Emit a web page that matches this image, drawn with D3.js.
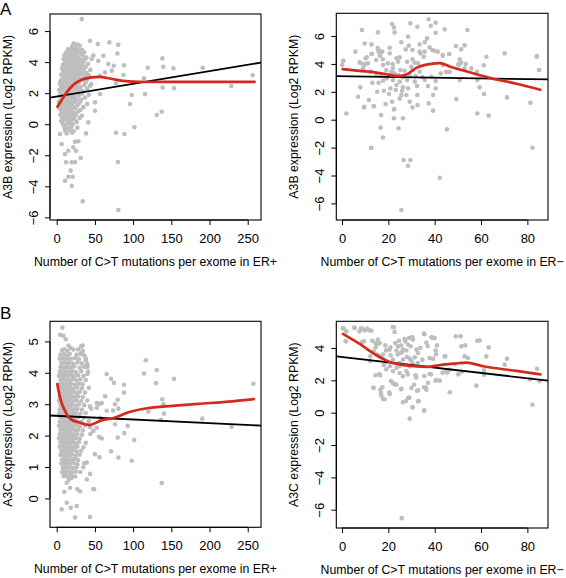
<!DOCTYPE html>
<html><head><meta charset="utf-8">
<script src="https://cdn.jsdelivr.net/npm/d3@7/dist/d3.min.js"></script>
<style>body{margin:0;background:#fff}svg{display:block;font-family:"Liberation Sans",Arial,Helvetica,sans-serif}</style>
</head><body><svg id="c" width="566" height="578"></svg>
<script>
// ---------- tick labels ----------
const xTicksERpos = [0, 50, 100, 150, 200, 250];
const xTicksERneg = [0, 20, 40, 60, 80];
const yTicksA3B = [-6, -4, -2, 0, 2, 4, 6];
const yTicksA3Cpos = [0, 1, 2, 3, 4, 5];
const yTicksA3Cneg = [-6, -4, -2, 0, 2, 4];
const xTitles = ["Number of C>T mutations per exome in ER+", "Number of C>T mutations per exome in ER\u2212"];
const yTitles = ["A3B expression (Log2 RPKM)", "A3C expression (Log2 RPKM)"];
const panelLetters = ["A", "B"];

// ---------- linear fits [intercept, slope] ----------
const fitA3Bpos = [1.78, 0.0082];
const fitA3Bneg = [3.12, -0.0026];
const fitA3Cpos = [2.63, -0.00116];
const fitA3Cneg = [3.44, -0.0164];

// ---------- lowess curves ----------
const smoothA3Bpos = [[0.9,1.12],[6.5,1.56],[13.1,2.05],[21.8,2.55],[32.7,2.87],[43.6,3.0],[56.7,3.05],[66,2.98],[76.3,2.88],[93.7,2.76],[120,2.72],[160,2.73],[200,2.73],[259,2.73]];
const smoothA3Bneg = [[0.3,3.63],[7.6,3.5],[14.8,3.38],[20.6,3.22],[24.2,3.13],[27.8,3.24],[32.1,3.72],[36.4,3.95],[42.2,4.06],[46.5,3.82],[55.1,3.4],[63.7,3.0],[75.3,2.58],[85.6,2.15]];
const smoothA3Cpos = [[0.8,3.64],[4.3,3.21],[10.9,2.79],[17.4,2.54],[30.5,2.41],[43.6,2.34],[56.7,2.47],[76,2.57],[95,2.75],[120,2.88],[142,2.93],[185,3.01],[230,3.09],[258,3.16]];
const smoothA3Cneg = [[0.4,4.87],[7.6,4.25],[14.8,3.56],[20.6,3.13],[27.8,2.92],[36.4,2.83],[43.6,2.97],[48,3.03],[53.7,3.1],[60.9,2.87],[75.3,2.58],[85.6,2.37]];

// ---------- points [mutations, expression] ----------
const erPosA3B = [
[22,5.2],[27,5.15],[30,5.05],[20,4.98],[25,5.02],[15,4.82],[19,4.75],[24,4.85],[28,4.78],[33,4.8],
[12,4.62],[17,4.58],[21,4.66],[26,4.6],[31,4.55],[36,4.63],[10,4.42],[14,4.38],[18,4.45],[23,4.4],[27,4.35],[34,4.43],[39,4.3],
[9,4.2],[13,4.24],[16,4.15],[20,4.22],[25,4.18],[29,4.25],[32,4.12],[37,4.2],
[11,4.02],[15,3.96],[19,4.05],[22,3.98],[27,4.03],[30,3.95],[35,4.0],[41,3.9],
[8,3.82],[12,3.78],[17,3.85],[21,3.8],[24,3.76],[28,3.83],[33,3.79],[38,3.72],
[7,3.6],[10,3.63],[14,3.58],[18,3.62],[22,3.55],[26,3.6],[31,3.64],[36,3.57],[44,3.5],
[9,3.42],[13,3.38],[16,3.45],[20,3.4],[24,3.36],[29,3.43],[34,3.38],[39,3.3],
[6,3.2],[11,3.24],[15,3.18],[19,3.22],[23,3.15],[27,3.2],[32,3.25],[37,3.12],[42,3.15],
[8,3.02],[12,2.98],[17,3.05],[21,3.0],[25,2.95],[30,3.03],[35,2.97],[40,2.9],
[5,2.8],[10,2.84],[14,2.78],[18,2.82],[22,2.76],[27,2.8],[33,2.85],[38,2.72],
[4,2.6],[7,2.64],[12,2.58],[16,2.62],[20,2.55],[24,2.6],[29,2.65],[36,2.52],[45,2.58],
[6,2.42],[9,2.38],[14,2.45],[18,2.4],[22,2.35],[26,2.43],[31,2.38],[40,2.3],
[3,2.2],[8,2.24],[11,2.18],[15,2.22],[20,2.15],[25,2.2],[30,2.25],[35,2.12],
[5,2.02],[10,1.98],[13,2.05],[17,2.0],[21,1.95],[27,2.03],[33,1.97],[42,1.9],
[4,1.8],[7,1.84],[12,1.78],[16,1.82],[19,1.76],[23,1.8],[29,1.85],[37,1.72],
[6,1.6],[9,1.64],[14,1.58],[18,1.62],[22,1.55],[26,1.6],[32,1.58],
[3,1.42],[8,1.38],[11,1.45],[15,1.4],[20,1.35],[24,1.43],[30,1.38],[40,1.3],
[5,1.2],[10,1.24],[13,1.18],[17,1.22],[21,1.15],[27,1.2],[35,1.1],
[4,1.02],[7,0.98],[12,1.05],[16,1.0],[19,0.95],[24,1.03],[31,0.92],
[6,0.82],[9,0.78],[14,0.85],[18,0.8],[22,0.75],[28,0.82],
[5,0.6],[8,0.64],[11,0.58],[15,0.62],[20,0.55],[25,0.6],[33,0.55],
[7,0.42],[10,0.38],[13,0.45],[17,0.4],[23,0.35],[30,0.4],
[6,0.2],[9,0.24],[15,0.18],[19,0.22],[26,0.15],
[8,0.02],[12,-0.03],[16,0.05],[21,0.0],
[10,-0.2],[14,-0.25],[19,-0.18],[27,-0.22],
[11,-0.42],[17,-0.38],[22,-0.45],[13,-0.6],[20,-0.55],
[32.7,6.77],[43.6,5.38],[53.7,5.16],[68.9,5.27],[80.6,5.12],[79.4,4.56],[61,4.41],[48,4.43],[45.8,4.2],[54.5,4.07],[67.5,3.88],[74.8,3.77],[88.1,3.8],
[56.7,3.12],[63.2,3.34],[72,3.45],[87.3,3.17],[43.6,2.48],[56.7,1.95],[50.1,1.41],[50.1,0.87],[41.4,0.12],
[138.3,4.24],[139.6,3.7],[119.1,3.64],[152.7,3.6],[191.1,3.64],[256.5,3.15],[114.3,2.95],[77.7,2.63],[138.7,2.37],[153.6,2.31],[228.6,2.46],
[98.2,1.88],[115.6,1.94],[96,1.3],[137.4,0.8],[130.9,0.59],[101.7,-0.2],[38.4,-0.59],[77.7,-0.55],[88.6,-0.63],[80.1,-2.44],[34,-4.97],[80.7,-5.53],
[6.5,-1.28],[10.9,-1.92],[15.2,-1.71],[21.7,-1.49],[25.3,-1.71],[31.4,-2.18],[12.2,-2.45],[19.6,-2.45],[24,-2.45],[18.3,-2.99],[15.2,-3.38],[20.9,-3.38],[10.9,-3.64],[19.6,-3.96],[4.3,-0.63],[24,-1.13],[28.4,-1.1]
];

const erNegA3B = [
[8.6,6.43],[21.6,6.86],[22.4,6.62],[29.5,6.91],[37.4,7.2],[38.3,6.74],[40.4,6.96],[40.4,6.24],[32.5,6.67],[44.3,6.48],[54.1,6.43],[22.7,6.26],[15.5,6.26],
[28.5,5.95],[5.8,4.88],[9.8,5.47],[12.7,5.4],[25.6,5.55],[28.8,5.31],[33.5,5.4],[35.7,5.55],[36.7,5.83],[37.8,5.19],[35.7,4.88],[33.5,4.88],[30.4,5.0],[27.5,5.04],
[20.6,5.16],[15.8,5.0],[16.3,4.76],[17.4,4.88],[20.6,4.76],[12.7,4.71],[10.2,4.4],[7.6,4.11],[0.4,4.21],[0.1,3.92],[11.2,4.04],[14.8,4.28],[17.6,4.33],[19.8,4.04],
[23.5,4.4],[24.2,4.16],[21.9,3.99],[24.9,4.47],[28.1,4.16],[30.4,4.33],[31.4,4.09],[32.8,4.04],[33.8,4.76],[35.3,4.52],[38.9,5.0],[39.9,4.95],[41.3,4.88],[43.5,4.64],
[46.3,4.71],[49.2,5.28],[51.4,5.04],[52.9,5.33],[50.8,4.33],[51.4,4.09],[50.4,3.92],[52.9,3.68],[62.3,4.52],[70.2,4.76],[84.2,4.57],[85,3.56],[61.2,3.9],[58.3,3.44],
[58.4,2.84],[59.4,2.32],[61.3,1.84],[71.2,1.6],[49.3,1.48],[81.3,1.22],[58.4,0.45],[63.3,0.29],[45.3,-0.69],[39.3,0.65],[37.4,1.17],[40.4,2.25],[40.4,2.77],[42.6,3.32],
[45,3.44],[38.6,3.08],[35.7,2.84],[32.4,2.41],[32.5,1.77],[32.6,1.05],[30.4,0.88],[29.2,1.29],[27.8,1.77],[25.9,2.08],[24.9,1.51],[24.4,-0.62],[22.4,0.1],[26.3,0.1],
[22.4,0.74],[21.6,1.29],[20.3,1.84],[18.1,2.08],[17.7,2.8],[15.8,2.65],[14.8,3.28],[15.2,2.0],[16.9,0.33],[16.7,-0.57],[17.7,-1.27],[12.7,-2.01],[11.6,1.41],[13.7,0.98],
[9.5,0.88],[7.9,2.32],[9.8,3.97],[1.9,0.45],[26.6,-2.89],[29.5,-2.89],[28.5,-3.3],[42.2,-4.16],[25.6,-6.48],[82.2,-2.01],[55.8,3.68],[50.8,2.84],[46.5,3.44],
[19.1,3.56],[21.3,3.44],[22.7,3.32],[24.2,3.2],[25.2,3.56],[26.3,3.04],[27,3.51],[28.1,2.84],[29.2,3.2],[30.6,3.56],[31.8,3.13],[33.5,3.44],[34.7,3.04],[22,2.84],
[23.5,2.49],[24.9,2.73],[26.3,2.32],[28.5,2.25],[20.9,2.25],[19.4,2.96],[16.9,3.2],[12.4,3.44],[9.1,3.68],[23.2,2.13],[25.6,1.77],[31.4,2.73],[37.1,2.41],[39.3,1.77],
[13.1,2.65],[18.8,1.12],[6.9,1.65],[17.7,3.92],[22,3.68],[29.9,3.8],[43.6,3.92],[85.1,3.56],[84,4.52],[53.4,4.0],[50.2,4.0],[43.5,4.59],[46.3,4.71],[45.3,3.4],
[15.4,5.14],[15.8,4.91],[16.4,4.59],[12.9,4.71],[10.7,4.48],[8.2,4.05],[9.6,3.95],[0.6,4.23],[12.5,-2.03],[22.6,0.77],[13.7,0.96],[9.6,0.93]
];

const erPosA3C = [
[7,4.72],[10,4.75],[14,4.7],[28,4.74],[34,4.69],
[5,4.58],[9,4.6],[13,4.56],[17,4.6],[26,4.57],[31,4.6],[36,4.55],
[4,4.45],[8,4.47],[11,4.43],[15,4.46],[19,4.44],[24,4.47],[29,4.43],[38,4.45],
[6,4.31],[9,4.33],[13,4.3],[16,4.32],[21,4.29],[27,4.33],[33,4.3],[40,4.28],
[5,4.18],[8,4.2],[11,4.16],[14,4.19],[18,4.17],[23,4.2],[30,4.16],[36,4.19],
[4,4.04],[7,4.06],[10,4.02],[13,4.05],[16,4.03],[20,4.06],[25,4.02],[32,4.05],[41,4.03],
[3,3.91],[6,3.93],[9,3.89],[12,3.92],[15,3.9],[19,3.93],[23,3.89],[28,3.92],[35,3.9],
[5,3.78],[8,3.8],[11,3.76],[14,3.79],[17,3.77],[21,3.8],[26,3.76],[31,3.79],[38,3.77],
[4,3.64],[7,3.66],[10,3.62],[13,3.65],[16,3.63],[19,3.66],[24,3.62],[29,3.65],[34,3.63],
[3,3.51],[6,3.53],[9,3.49],[12,3.52],[15,3.5],[18,3.53],[22,3.49],[27,3.52],[33,3.5],[42,3.52],
[5,3.38],[8,3.4],[11,3.36],[14,3.39],[17,3.37],[20,3.4],[25,3.36],[30,3.39],[37,3.37],
[4,3.24],[7,3.26],[10,3.22],[13,3.25],[16,3.23],[19,3.26],[23,3.22],[28,3.25],[34,3.23],
[3,3.11],[6,3.13],[9,3.09],[12,3.12],[15,3.1],[18,3.13],[21,3.09],[26,3.12],[32,3.1],[40,3.12],
[5,2.98],[8,3.0],[11,2.96],[14,2.99],[17,2.97],[20,3.0],[24,2.96],[29,2.99],[36,2.97],
[4,2.84],[7,2.86],[10,2.82],[13,2.85],[16,2.83],[19,2.86],[22,2.82],[27,2.85],[33,2.83],[45,2.86],
[3,2.71],[6,2.73],[9,2.69],[12,2.72],[15,2.7],[18,2.73],[21,2.69],[25,2.72],[31,2.7],[38,2.72],
[5,2.58],[8,2.6],[11,2.56],[14,2.59],[17,2.57],[20,2.6],[23,2.56],[28,2.59],[35,2.57],
[4,2.44],[7,2.46],[10,2.42],[13,2.45],[16,2.43],[19,2.46],[22,2.42],[26,2.45],[32,2.43],[42,2.46],
[3,2.31],[6,2.33],[9,2.29],[12,2.32],[15,2.3],[18,2.33],[21,2.29],[25,2.32],[30,2.3],[37,2.32],
[5,2.18],[8,2.2],[11,2.16],[14,2.19],[17,2.17],[20,2.2],[24,2.16],[28,2.19],[34,2.17],
[4,2.04],[7,2.06],[10,2.02],[13,2.05],[16,2.03],[19,2.06],[22,2.02],[27,2.05],[33,2.03],[44,2.05],
[3,1.91],[6,1.93],[9,1.89],[12,1.92],[15,1.9],[18,1.93],[21,1.89],[25,1.92],[30,1.9],
[5,1.78],[8,1.8],[11,1.76],[14,1.79],[17,1.77],[20,1.8],[24,1.76],[29,1.79],[38,1.77],
[4,1.64],[7,1.66],[10,1.62],[13,1.65],[16,1.63],[19,1.66],[23,1.62],[27,1.65],[35,1.63],
[6,1.51],[9,1.53],[12,1.49],[15,1.52],[18,1.5],[21,1.53],[26,1.49],[32,1.52],
[5,1.38],[8,1.4],[11,1.36],[14,1.39],[17,1.37],[20,1.4],[25,1.36],[30,1.39],
[7,1.24],[10,1.26],[13,1.22],[16,1.25],[19,1.23],[23,1.26],[28,1.22],
[6,1.11],[9,1.13],[12,1.09],[15,1.12],[18,1.1],[22,1.13],[27,1.09],[36,1.12],
[8,0.98],[11,1.0],[14,0.96],[17,0.99],[21,0.97],[26,1.0],
[7,0.84],[10,0.86],[13,0.82],[16,0.85],[20,0.83],[25,0.86],[31,0.84],
[9,0.71],[12,0.73],[15,0.69],[19,0.72],[24,0.7],
[7.4,5.44],[4.4,5.21],[8.7,5.18],[11.8,5.07],[15.3,4.87],[18.3,4.79],[21.8,4.74],[31.9,4.84],[34,4.87],[32.7,4.6],[38.4,4.39],[40.2,4.18],[40.2,3.96],
[65.4,3.96],[71.1,3.81],[75,3.68],[88.1,3.62],[88.1,3.37],[79.8,3.14],[76.3,3.0],[80.7,2.86],[63.3,3.25],[52.4,3.04],[56,3.01],[59,3.04],[43.6,2.93],[73.7,2.8],
[76.8,2.56],[76.3,2.36],[92.9,2.31],[88.5,2.08],[79.8,1.94],[101.6,1.86],[55.4,1.96],[58.9,1.91],[52.4,2.25],[71.1,1.5],[80.7,1.3],[98.2,1.2],[55.8,1.31],[48.9,0.29],[43.6,-0.59],
[116.5,4.4],[114.3,3.98],[130.9,4.09],[130,3.67],[153.5,3.81],[138.2,3.16],[139.6,3.0],[140.5,2.7],[136.5,2.5],[120,2.77],[190.6,2.54],[229,2.28],[257.4,3.65],[137.4,0.49],
[27,0.29],[30.5,0.23],[26.2,-0.24],[24,-0.61],[17.5,0.34],[6.5,-0.35],[13.1,-0.14],[18.3,-0.3],[10,0.21],[13.1,0.5],[16.1,0.6],[19.6,0.66],[39.3,0.6],[47.9,0.3],
[43.6,0.78],[39.3,1.14],[34.8,0.99],[50.1,1.41],[47.9,2.15],[43.6,2.27],[52.4,2.89],[56.7,2.57],[65.4,2.79]
];

const erNegA3C = [
[0.7,5.2],[1.9,5.03],[1.6,4.41],[5.5,5.24],[7.6,5.03],[8.8,5.2],[9.8,5.09],[10.8,5.2],[12.7,5.07],[9.5,4.41],[8.6,4.37],[13.1,4.45],[14.5,4.31],[15.5,4.52],
[16.3,4.31],[14.5,4.04],[13.7,3.79],[15.1,3.59],[16.3,3.48],[17.7,3.59],[12.2,3.48],[12.2,3.18],[18.7,4.16],[20.6,3.9],[20.9,4.04],[22.7,4.99],[22.4,5.28],[24.6,4.45],
[24.2,4.1],[23.5,3.84],[25.6,4.16],[26.3,3.9],[25.2,3.69],[27.3,4.41],[27.8,3.84],[28.9,4.62],[30.4,4.66],[30.6,4.52],[28.5,4.2],[29.6,4.1],[32.1,3.9],[32.8,3.69],
[33.8,4.0],[35.4,4.89],[36.4,4.33],[38.6,4.66],[40,4.62],[41,4.16],[40.4,3.84],[37.8,3.38],[39.3,3.34],[44.6,3.48],[49.1,4.72],[51.2,4.72],[51.5,4.1],[53.2,4.16],
[52.9,3.48],[54.4,3.38],[58.4,4.45],[59.4,4.47],[63.3,4.04],[62.3,3.48],[71.2,3.34],[70.2,2.97],[84.2,2.72],[85.3,1.94],[58,1.67],[61.3,2.35],[82.2,0.49],[46.5,1.26],
[42.2,1.98],[40.4,1.98],[37.8,2.39],[37.1,1.84],[35.4,1.57],[36.4,1.42],[35.4,0.12],[32.8,0.7],[30.4,0.33],[29.2,-0.37],[28.5,0.91],[26.3,0.64],[25.6,1.48],[23.5,1.73],
[22,1.84],[20.6,1.15],[17.4,1.57],[16.5,1.42],[17,1.05],[17.7,0.85],[13.7,1.53],[14.5,2.31],[16.5,2.31],[25.8,-6.52],[31.8,2.31],[31.1,1.73],[32.4,1.36],[29.9,1.53],
[26.3,2.25],[23.5,2.76],[22,2.56],[20.6,2.87],[24.9,2.45],[27.8,2.56],[29.2,2.87],[30.6,3.01],[32.8,3.07],[24.9,3.07],[26.3,3.28],[22,3.28],[19.1,3.13],[29.2,3.34],
[31.4,3.42],[34.7,3.28],[19.1,2.68],[44.7,2.56],[46.5,2.66],[24,3.6],[26,3.75],[28,3.45],[21,3.55],[23,4.3],[27,4.55],[19,3.85],[30,3.2],[25,2.9],[18,2.95],
[21.1,1.96],[28.4,2.37],[32,2.17],[35.5,2.27],[38.4,2.37],[16.1,2.37],[13.5,1.55],[16.8,1.24],[20.4,1.24],[18.3,0.83],[22.6,1.76],[25.5,1.45],[27.6,0.72],[29.1,0.93],
[30.5,0.35],[33.2,0.72],[35.5,0.15],[32.9,1.39],[36.2,1.55],[40.6,2.02],[21.9,5.3],[29.8,4.64],[35.5,4.85],[39.1,4.64],[40.6,3.61],[37,4.12],[15.4,4.23],[1.7,4.43],
[5.3,5.26],[8.2,5.22],[11.8,5.1],[0.3,5.22],[43.4,2.47],[45.4,2.47],[50.2,2.37],[51.7,2.53],[48.8,2.99],[81.1,2.06],[61.3,2.62],[44.3,3.49]
];

// ---------- layout ----------
const panels = [
  {pts: erPosA3B, fit: fitA3Bpos, sm: smoothA3Bpos, xt: xTicksERpos, yt: yTicksA3B, xl: xTitles[0], yl: yTitles[0],
   L: 50, R: 261, T: 14, B: 220, xd: [-8.8, 267.4], yd: [-6.17, 7.10]},
  {pts: erNegA3B, fit: fitA3Bneg, sm: smoothA3Bneg, xt: xTicksERneg, yt: yTicksA3B, xl: xTitles[1], yl: yTitles[0],
   L: 336.3, R: 548, T: 13.3, B: 220, xd: [-2.46, 88.9], yd: [-7.19, 7.63]},
  {pts: erPosA3C, fit: fitA3Cpos, sm: smoothA3Cpos, xt: xTicksERpos, yt: yTicksA3Cpos, xl: xTitles[0], yl: yTitles[1],
   L: 50, R: 261, T: 321.3, B: 527.3, xd: [-8.8, 267.4], yd: [-0.92, 5.64]},
  {pts: erNegA3C, fit: fitA3Cneg, sm: smoothA3Cneg, xt: xTicksERneg, yt: yTicksA3Cneg, xl: xTitles[1], yl: yTitles[1],
   L: 336.3, R: 548, T: 321.3, B: 528, xd: [-2.46, 88.9], yd: [-7.13, 5.65]}
];

const svg = d3.select("#c");
const FS = 12.3, TFS = 13;
const fmt = d3.format("d");

panels.forEach((p, i) => {
  const x = d3.scaleLinear().domain(p.xd).range([p.L, p.R]);
  const y = d3.scaleLinear().domain(p.yd).range([p.B, p.T]);
  const g = svg.append("g");
  const cid = "clip" + i;
  svg.append("clipPath").attr("id", cid).append("rect")
    .attr("x", p.L).attr("y", p.T).attr("width", p.R - p.L).attr("height", p.B - p.T);

  g.append("g").selectAll("circle").data(p.pts).join("circle")
    .attr("cx", d => x(d[0])).attr("cy", d => y(d[1])).attr("r", 2.3)
    .attr("fill", "#bebebe");

  const x0 = p.xd[0], x1 = p.xd[1];
  g.append("line").attr("clip-path", `url(#${cid})`)
    .attr("x1", x(x0)).attr("y1", y(p.fit[0] + p.fit[1] * x0))
    .attr("x2", x(x1)).attr("y2", y(p.fit[0] + p.fit[1] * x1))
    .attr("stroke", "#000").attr("stroke-width", 1.8);

  g.append("path").datum(p.sm)
    .attr("d", d3.line().x(d => x(d[0])).y(d => y(d[1])).curve(d3.curveMonotoneX))
    .attr("fill", "none").attr("stroke", "#d42a1c").attr("stroke-width", 2.7)
    .attr("stroke-linejoin", "round").attr("stroke-linecap", "round");

  g.append("rect").attr("x", p.L).attr("y", p.T).attr("width", p.R - p.L).attr("height", p.B - p.T)
    .attr("fill", "none").attr("stroke", "#000").attr("stroke-width", 1.1);

  const ax = g.append("g").attr("transform", `translate(0,${p.B})`)
    .call(d3.axisBottom(x).tickValues(p.xt).tickFormat(fmt).tickSize(5));
  ax.select(".domain").remove();
  ax.selectAll(".tick line").attr("stroke", "#000");
  ax.selectAll(".tick text").attr("y", 23).attr("dy", null)
    .attr("font-size", TFS).attr("font-family", null).attr("fill", "#000");
  ax.append("line").attr("x1", x(p.xt[0])).attr("x2", x(p.xt[p.xt.length - 1]))
    .attr("stroke", "#000");

  const ay = g.append("g").attr("transform", `translate(${p.L},0)`)
    .call(d3.axisLeft(y).tickValues(p.yt).tickFormat(fmt).tickSize(5));
  ay.select(".domain").remove();
  ay.selectAll(".tick line").attr("stroke", "#000");
  ay.selectAll(".tick text").attr("x", 0).attr("y", 0).attr("dy", "0.36em")
    .attr("text-anchor", "middle").attr("transform", "translate(-17,0) rotate(-90)")
    .attr("font-size", TFS).attr("font-family", null).attr("fill", "#000");
  ay.append("line").attr("y1", y(p.yt[0])).attr("y2", y(p.yt[p.yt.length - 1]))
    .attr("stroke", "#000");

  g.append("text").attr("x", (p.L + p.R) / 2).attr("y", p.B + 46)
    .attr("text-anchor", "middle").attr("font-size", FS).text(p.xl);
  g.append("text").attr("transform", `translate(${p.L - 38},${(p.T + p.B) / 2}) rotate(-90)`)
    .attr("text-anchor", "middle").attr("font-size", FS).text(p.yl);
});

svg.append("text").attr("x", 0).attr("y", 15).attr("font-size", 17).text(panelLetters[0]);
svg.append("text").attr("x", 0).attr("y", 319).attr("font-size", 17).text(panelLetters[1]);
</script>
</body></html>
